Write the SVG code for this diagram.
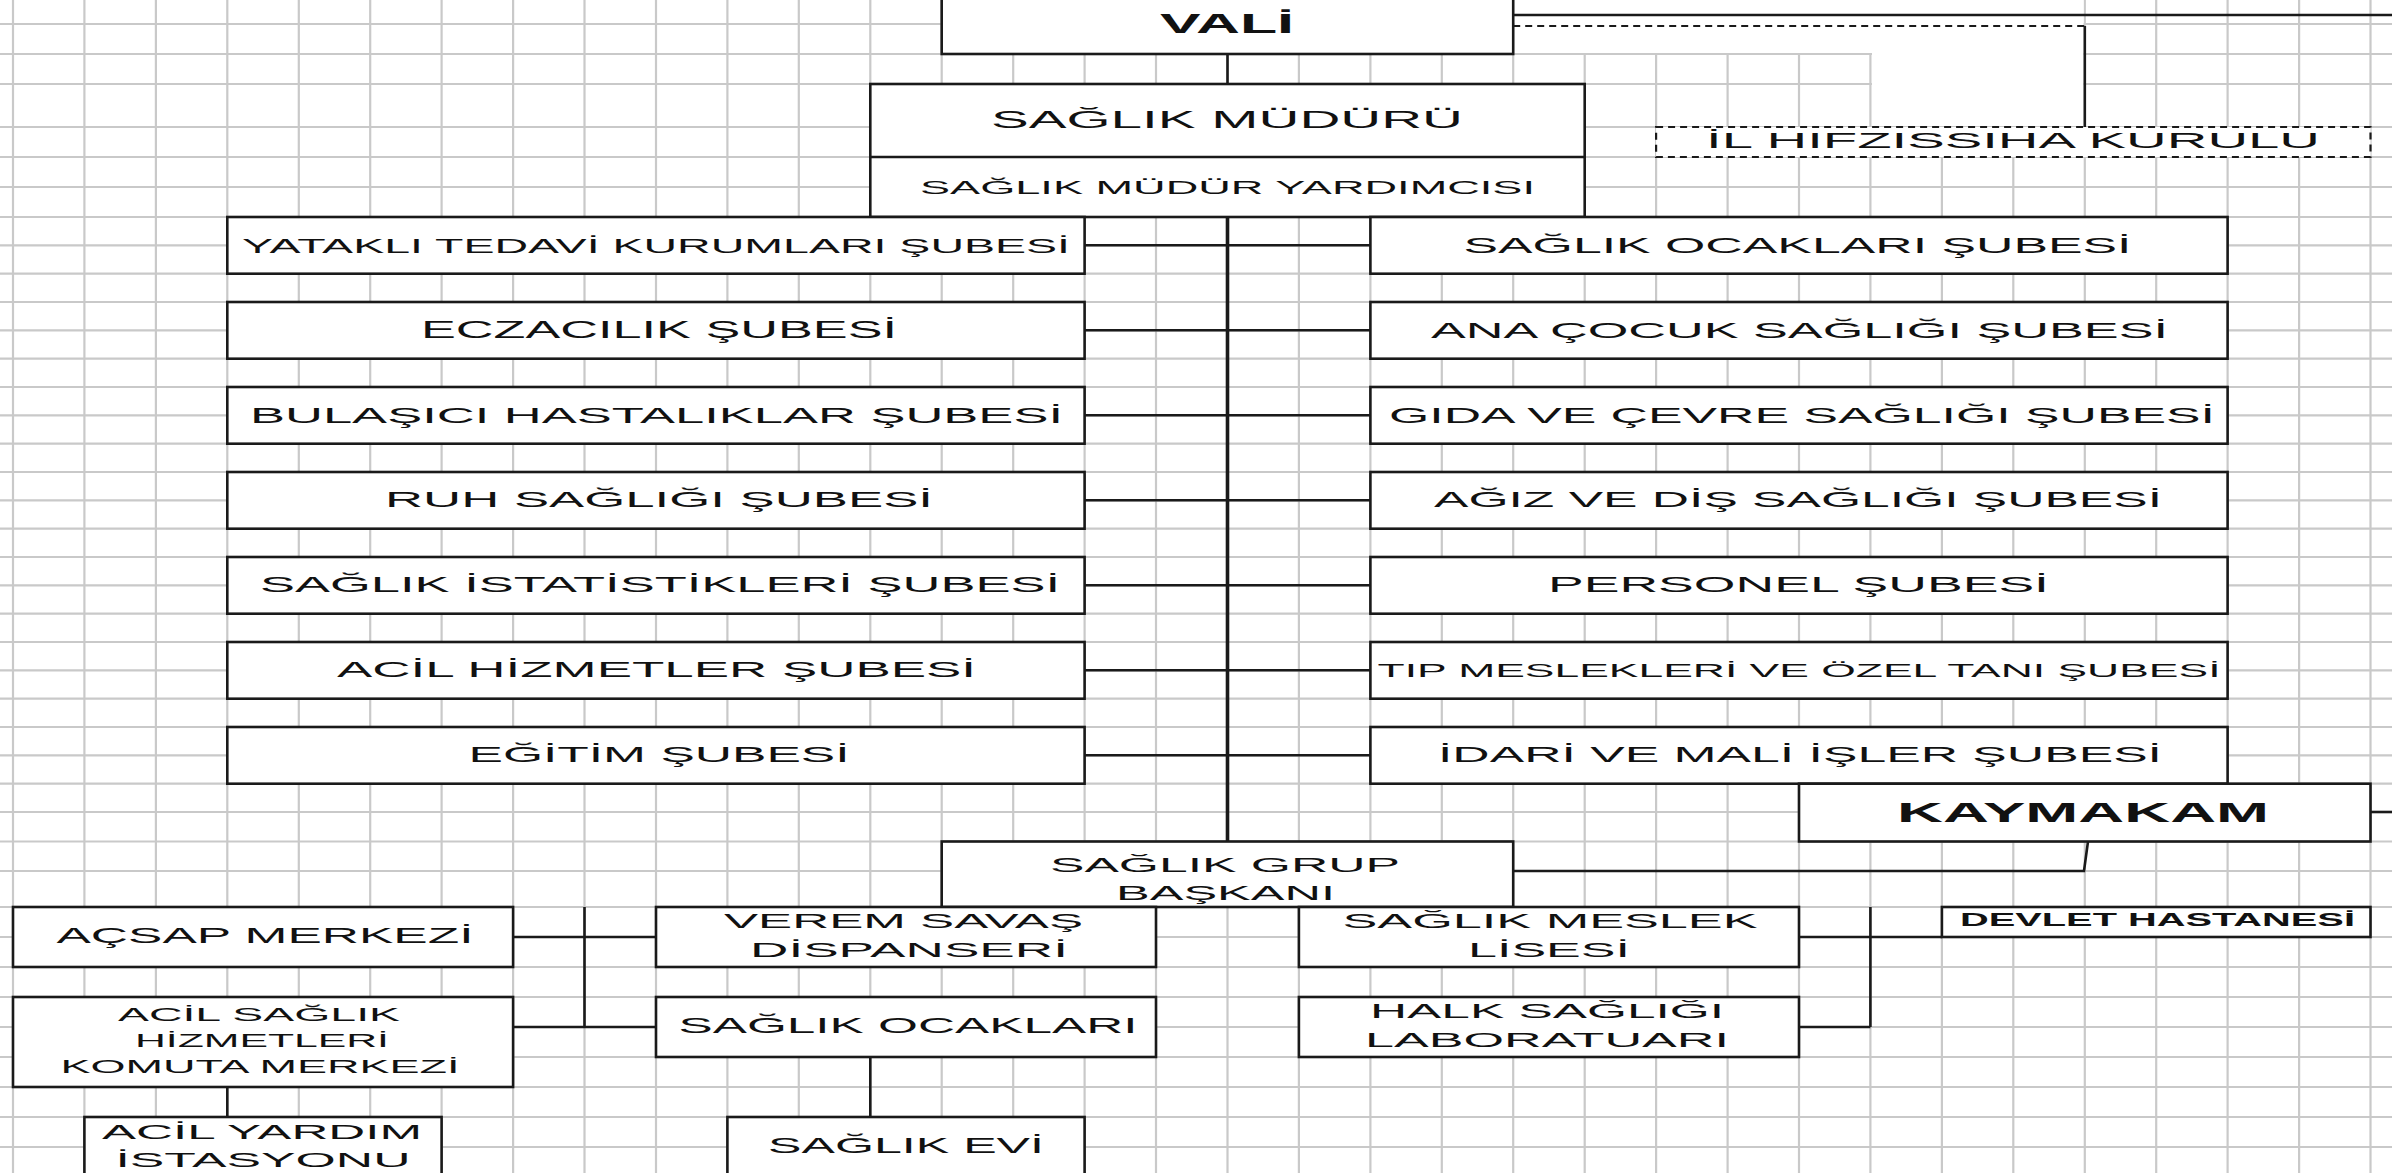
<svg xmlns="http://www.w3.org/2000/svg" width="2392" height="1173" viewBox="0 0 2392 1173">
<style>
.grid{stroke:#c9c9c9;stroke-width:2.2;fill:none}
.box{fill:#ffffff;stroke:#1a1a1a;stroke-width:2.6}
.dbox{fill:#ffffff;stroke:#1a1a1a;stroke-width:2.2;stroke-dasharray:7 5}
.ln{stroke:#1a1a1a;stroke-width:2.6;fill:none}
.main{stroke:#1a1a1a;stroke-width:3.6;fill:none}
.dash{stroke:#1a1a1a;stroke-width:2.2;stroke-dasharray:7 5;fill:none}
text{font-family:"Liberation Sans",Arial,sans-serif;fill:#111111;text-anchor:middle}
.b{font-weight:bold}
</style>
<rect x="0" y="0" width="2392" height="1173" fill="#ffffff"/>
<g id="grid">
<path class="grid" d="M13 0V1173M84.4 0V1173M155.9 0V1173M227.3 0V1173M298.8 0V1173M370.2 0V1173M441.6 0V1173M513.1 0V1173M584.5 0V1173M656 0V1173M727.4 0V1173M798.8 0V1173M870.3 0V1173M941.7 0V1173M1013.2 0V1173M1084.6 0V1173M1156 0V1173M1227.5 0V1173M1298.9 0V1173M1370.4 0V1173M1441.8 0V1173M1513.2 0V1173M1584.7 0V1173M1656.1 0V1173M1727.6 0V1173M1799 0V1173M1870.4 0V1173M1941.9 0V1173M2013.3 0V1173M2084.8 0V1173M2156.2 0V1173M2227.6 0V1173M2299.1 0V1173M2370.5 0V1173"/>
<path class="grid" d="M0 24H2392M0 54H2392M0 84H2392M0 127H2392M0 157H2392M0 187H2392M0 217H2392M0 245.3H2392M0 273.7H2392M0 302H2392M0 330.3H2392M0 358.7H2392M0 387H2392M0 415.3H2392M0 443.7H2392M0 472H2392M0 500.3H2392M0 528.7H2392M0 557H2392M0 585.3H2392M0 613.7H2392M0 642H2392M0 670.3H2392M0 698.7H2392M0 727H2392M0 755.3H2392M0 783.7H2392M0 812H2392M0 841.5H2392M0 871H2392M0 907H2392M0 937H2392M0 967H2392M0 997H2392M0 1027H2392M0 1057H2392M0 1087H2392M0 1117H2392M0 1147H2392"/>
<rect x="1514.5" y="0" width="569" height="53" fill="#ffffff"/>
<rect x="1872" y="50" width="211.5" height="76" fill="#ffffff"/>
</g>
<g id="connectors">
<path class="ln" d="M1227.5 54V84"/>
<path class="main" d="M1227.5 217V841.5"/>
<path class="ln" d="M1084.6 245.3H1370.4M1084.6 330.3H1370.4M1084.6 415.3H1370.4M1084.6 500.3H1370.4M1084.6 585.3H1370.4M1084.6 670.3H1370.4M1084.6 755.3H1370.4"/>
<path class="ln" d="M1513.2 15H2392"/>
<path class="dash" d="M1513.2 26H2084.8"/>
<path class="ln" d="M2084.8 26V127"/>
<path class="ln" d="M2370.5 812H2392"/>
<path class="ln" d="M2088 841.5L2084 871H1513.2"/>
<path class="ln" d="M584.5 907V1027M513.1 937H656M513.1 1027H656"/>
<path class="ln" d="M227.3 1087V1117"/>
<path class="ln" d="M870.3 1057V1117"/>
<path class="ln" d="M1870.4 907V1027M1799 937H1941.9M1799 1027H1870.4"/>
</g>
<g id="vali">
<rect class="box" x="941.7" y="-4" width="571.5" height="58"/>
<text class="b" x="1227" y="33" font-size="28" textLength="134" lengthAdjust="spacingAndGlyphs">VALİ</text>
</g>
<g id="saglik-muduru">
<rect class="box" x="870.3" y="84" width="714.4" height="133"/>
<path class="ln" d="M870.3 157H1584.7"/>
<text x="1227" y="128" font-size="23" textLength="472" lengthAdjust="spacingAndGlyphs">SAĞLIK MÜDÜRÜ</text>
<text x="1227.5" y="193.5" font-size="18.5" textLength="615" lengthAdjust="spacingAndGlyphs">SAĞLIK MÜDÜR YARDIMCISI</text>
</g>
<g id="il-hifzissiha">
<rect class="dbox" x="1656.1" y="127" width="714.4" height="30"/>
<text x="2013" y="148" font-size="22" textLength="614" lengthAdjust="spacingAndGlyphs">İL HIFZISSIHA KURULU</text>
</g>
<g id="yatakli">
<rect class="box" x="227.3" y="217" width="857.3" height="56.7"/>
<text x="656" y="252.5" font-size="21" textLength="828" lengthAdjust="spacingAndGlyphs">YATAKLI TEDAVİ KURUMLARI ŞUBESİ</text>
</g>
<g id="eczacilik">
<rect class="box" x="227.3" y="302" width="857.3" height="56.7"/>
<text x="659" y="337.5" font-size="23" textLength="476" lengthAdjust="spacingAndGlyphs">ECZACILIK ŞUBESİ</text>
</g>
<g id="bulasici">
<rect class="box" x="227.3" y="387" width="857.3" height="56.7"/>
<text x="656.5" y="422.5" font-size="22" textLength="813" lengthAdjust="spacingAndGlyphs">BULAŞICI HASTALIKLAR ŞUBESİ</text>
</g>
<g id="ruh-sagligi">
<rect class="box" x="227.3" y="472" width="857.3" height="56.7"/>
<text x="659" y="507" font-size="22" textLength="548" lengthAdjust="spacingAndGlyphs">RUH SAĞLIĞI ŞUBESİ</text>
</g>
<g id="istatistik">
<rect class="box" x="227.3" y="557" width="857.3" height="56.7"/>
<text x="660" y="592" font-size="22" textLength="800" lengthAdjust="spacingAndGlyphs">SAĞLIK İSTATİSTİKLERİ ŞUBESİ</text>
</g>
<g id="acil-hizmetler">
<rect class="box" x="227.3" y="642" width="857.3" height="56.7"/>
<text x="656.5" y="677" font-size="22" textLength="639" lengthAdjust="spacingAndGlyphs">ACİL HİZMETLER ŞUBESİ</text>
</g>
<g id="egitim">
<rect class="box" x="227.3" y="727" width="857.3" height="56.7"/>
<text x="659" y="762" font-size="22" textLength="381" lengthAdjust="spacingAndGlyphs">EĞİTİM ŞUBESİ</text>
</g>
<g id="saglik-ocaklari-sb">
<rect class="box" x="1370.4" y="217" width="857.2" height="56.7"/>
<text x="1797.5" y="252.5" font-size="22" textLength="668" lengthAdjust="spacingAndGlyphs">SAĞLIK OCAKLARI ŞUBESİ</text>
</g>
<g id="ana-cocuk">
<rect class="box" x="1370.4" y="302" width="857.2" height="56.7"/>
<text x="1799.5" y="337.5" font-size="22" textLength="737" lengthAdjust="spacingAndGlyphs">ANA ÇOCUK SAĞLIĞI ŞUBESİ</text>
</g>
<g id="gida-cevre">
<rect class="box" x="1370.4" y="387" width="857.2" height="56.7"/>
<text x="1802" y="422.5" font-size="22" textLength="826" lengthAdjust="spacingAndGlyphs">GIDA VE ÇEVRE SAĞLIĞI ŞUBESİ</text>
</g>
<g id="agiz-dis">
<rect class="box" x="1370.4" y="472" width="857.2" height="56.7"/>
<text x="1798" y="507" font-size="22" textLength="728" lengthAdjust="spacingAndGlyphs">AĞIZ VE DİŞ SAĞLIĞI ŞUBESİ</text>
</g>
<g id="personel">
<rect class="box" x="1370.4" y="557" width="857.2" height="56.7"/>
<text x="1798.5" y="592" font-size="22" textLength="501" lengthAdjust="spacingAndGlyphs">PERSONEL ŞUBESİ</text>
</g>
<g id="tip-meslekleri">
<rect class="box" x="1370.4" y="642" width="857.2" height="56.7"/>
<text x="1799" y="677" font-size="18.5" textLength="843" lengthAdjust="spacingAndGlyphs">TIP MESLEKLERİ VE ÖZEL TANI ŞUBESİ</text>
</g>
<g id="idari-mali">
<rect class="box" x="1370.4" y="727" width="857.2" height="56.7"/>
<text x="1800" y="762" font-size="22" textLength="724" lengthAdjust="spacingAndGlyphs">İDARİ VE MALİ İŞLER ŞUBESİ</text>
</g>
<g id="kaymakam">
<rect class="box" x="1799" y="783.7" width="571.5" height="57.8"/>
<text class="b" x="2083" y="821.5" font-size="28" textLength="372" lengthAdjust="spacingAndGlyphs">KAYMAKAM</text>
</g>
<g id="saglik-grup">
<rect class="box" x="941.7" y="841.5" width="571.5" height="65.5"/>
<text x="1225" y="871.5" font-size="21" textLength="350" lengthAdjust="spacingAndGlyphs">SAĞLIK GRUP</text>
<text x="1225.5" y="900" font-size="21" textLength="219" lengthAdjust="spacingAndGlyphs">BAŞKANI</text>
</g>
<g id="acsap">
<rect class="box" x="13" y="907" width="500.1" height="60"/>
<text x="265" y="943.3" font-size="22.5" textLength="417" lengthAdjust="spacingAndGlyphs">AÇSAP MERKEZİ</text>
</g>
<g id="acil-saglik">
<rect class="box" x="13" y="997" width="500.1" height="90"/>
<text x="259" y="1020.7" font-size="18.6" textLength="282" lengthAdjust="spacingAndGlyphs">ACİL SAĞLIK</text>
<text x="262" y="1047.3" font-size="18.6" textLength="254" lengthAdjust="spacingAndGlyphs">HİZMETLERİ</text>
<text x="260" y="1073.3" font-size="18.6" textLength="399" lengthAdjust="spacingAndGlyphs">KOMUTA MERKEZİ</text>
</g>
<g id="acil-yardim">
<rect class="box" x="84.4" y="1117" width="357.2" height="70"/>
<text x="262" y="1139.3" font-size="21" textLength="320" lengthAdjust="spacingAndGlyphs">ACİL YARDIM</text>
<text x="263" y="1166.7" font-size="21" textLength="295" lengthAdjust="spacingAndGlyphs">İSTASYONU</text>
</g>
<g id="verem">
<rect class="box" x="656" y="907" width="500" height="60"/>
<text x="903.5" y="928.3" font-size="21" textLength="359" lengthAdjust="spacingAndGlyphs">VEREM SAVAŞ</text>
<text x="909" y="956.7" font-size="21" textLength="318" lengthAdjust="spacingAndGlyphs">DİSPANSERİ</text>
</g>
<g id="saglik-ocaklari">
<rect class="box" x="656" y="997" width="500" height="60"/>
<text x="908" y="1033.3" font-size="22" textLength="459" lengthAdjust="spacingAndGlyphs">SAĞLIK OCAKLARI</text>
</g>
<g id="saglik-evi">
<rect class="box" x="727.4" y="1117" width="357.2" height="70"/>
<text x="906" y="1152.7" font-size="22" textLength="276" lengthAdjust="spacingAndGlyphs">SAĞLIK EVİ</text>
</g>
<g id="meslek-lisesi">
<rect class="box" x="1298.9" y="907" width="500.1" height="60"/>
<text x="1550" y="928.3" font-size="21" textLength="415" lengthAdjust="spacingAndGlyphs">SAĞLIK MESLEK</text>
<text x="1549" y="956.7" font-size="21" textLength="162" lengthAdjust="spacingAndGlyphs">LİSESİ</text>
</g>
<g id="halk-sagligi">
<rect class="box" x="1298.9" y="997" width="500.1" height="60"/>
<text x="1547" y="1018.3" font-size="20" textLength="354" lengthAdjust="spacingAndGlyphs">HALK SAĞLIĞI</text>
<text x="1547" y="1047.3" font-size="20" textLength="364" lengthAdjust="spacingAndGlyphs">LABORATUARI</text>
</g>
<g id="devlet-hastanesi">
<rect class="box" x="1941.9" y="907" width="428.6" height="30"/>
<text class="b" x="2157.5" y="926" font-size="17.7" textLength="395" lengthAdjust="spacingAndGlyphs">DEVLET HASTANESİ</text>
</g>
</svg>
